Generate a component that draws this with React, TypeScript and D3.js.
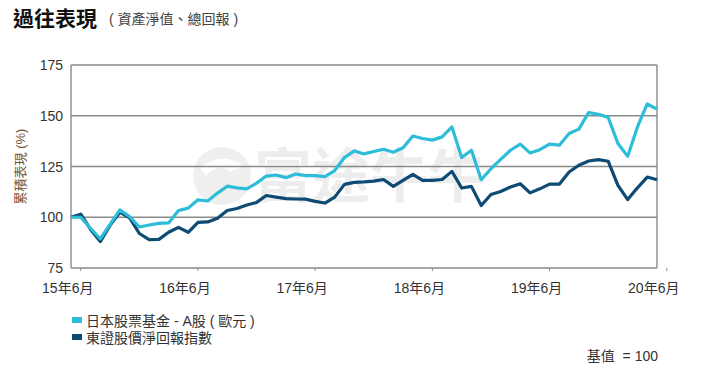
import React from 'react';
import * as d3 from 'd3';

// monthly points, May 2015 (index 0) to May 2020 (index 60)
const fundValues = [
  100, 100, 94.5, 89.4, 96.5, 103.6, 100.3, 95.2, 96.2, 97, 97.2, 103.3, 104.5, 108.6, 108,
  111.9, 115.3, 114.5, 114, 116.8, 120.3, 120.8, 119.5, 121.3, 120.5, 120.5, 120, 123, 129.4,
  132.7, 131.2, 132.4, 133.5, 132, 134.2, 140, 138.8, 138, 139.6, 144.5, 129.4, 133, 118.5,
  123.9, 128.5, 133, 136, 131.7, 133.3, 136, 135.5, 141.3, 143.4, 151.6, 150.7, 149.2, 136.3,
  130, 144.5, 155.8, 153.3,
];
const indexValues = [
  100, 101.5, 94, 88, 96, 102.5, 99.7, 92, 89, 89.1, 92.6, 95, 92.6, 97.5, 97.7, 99.5, 103.3,
  104.3, 106, 107.3, 110.7, 109.9, 109.2, 109, 108.9, 107.8, 107, 109.9, 116.2, 117.2, 117.4,
  117.8, 118.6, 115.2, 118.2, 121.1, 118.2, 118.2, 118.6, 122.6, 114.4, 115.2, 105.8, 111.2,
  112.7, 114.9, 116.5, 112, 114, 116.3, 116.3, 122.3, 125.6, 127.7, 128.4, 127.6, 115.7, 108.7,
  114.5, 119.8, 118.5,
];
const tickIndex = [1, 13, 25, 37, 49, 61];
const tickLabels = ['15年6月', '16年6月', '17年6月', '18年6月', '19年6月', '20年6月'];
const yTicks = [75, 100, 125, 150, 175];
const seriesNames = ['日本股票基金 - A股 ( 歐元 )', '東證股價淨回報指數'];

const FONT = '"Liberation Sans", Arial, "Noto Sans CJK TC", sans-serif';
const LIGHT = '#2dbdd9';
const DARK = '#0d4b74';

export default function App() {
  const width = 701;
  const height = 374;
  const left = 71, right = 657, top = 65, bottom = 268;

  const x = d3.scaleLinear().domain([0, 60]).range([left, right]);
  const y = d3.scaleLinear().domain([75, 175]).range([bottom, top]);
  const line = d3
    .line<number>()
    .x((_, i) => x(i))
    .y((d) => y(d));

  return (
    <svg
      width={width}
      height={height}
      style={{ position: 'absolute', left: 0, top: 0, background: '#fff' }}
      fontFamily={FONT}
    >
      <text x={13} y={26} fontSize={21} fontWeight="bold" fill="#111">過往表現</text>
      <text x={109} y={24} fontSize={14} fill="#444">( 資產淨值、總回報 )</text>

      {/* watermark */}
      <g opacity={0.45}>
        <circle cx={222} cy={176} r={29} fill="#dcdcdc" />
        <path d="M200,168 Q222,150 244,166 L230,172 Q220,162 206,176 Z" fill="#fff" />
        <text x={254} y={197} fontSize={58} fontWeight="bold" fill="#d8d8d8">富途牛牛</text>
      </g>

      {yTicks.map((t) => (
        <g key={t}>
          <line x1={left} x2={right} y1={y(t)} y2={y(t)} stroke="#8a8a8a" strokeWidth={1.4} />
          <text x={63} y={y(t) + 5} fontSize={14} textAnchor="end" fill="#333">{t}</text>
        </g>
      ))}
      <line x1={left} x2={left} y1={top} y2={bottom} stroke="#8a8a8a" strokeWidth={1.4} />
      <line x1={right} x2={right} y1={top} y2={bottom} stroke="#8a8a8a" strokeWidth={1.4} />

      {tickIndex.map((t, i) => (
        <g key={t}>
          <line x1={x(t)} x2={x(t)} y1={bottom} y2={bottom + 3} stroke="#8a8a8a" strokeWidth={1} />
          <text x={x(t) - 13} y={293} fontSize={14} textAnchor="middle" fill="#333">
            {tickLabels[i]}
          </text>
        </g>
      ))}

      <text
        transform={`translate(25,${(top + bottom) / 2}) rotate(-90)`}
        fontSize={13}
        textAnchor="middle"
        fill="#7a5232"
      >
        累積表現 (%)
      </text>

      <path d={line(indexValues) ?? ''} fill="none" stroke={DARK} strokeWidth={3.2} strokeLinejoin="round" />
      <path d={line(fundValues) ?? ''} fill="none" stroke={LIGHT} strokeWidth={3.2} strokeLinejoin="round" />

      {seriesNames.map((name, i) => (
        <g key={name} transform={`translate(72,${321 + i * 17})`}>
          <rect x={0} y={-4} width={10} height={6} fill={i === 0 ? LIGHT : DARK} />
          <text x={14} y={5} fontSize={14} fill="#333">{name}</text>
        </g>
      ))}
      <text x={658} y={361} fontSize={14} textAnchor="end" fill="#333" style={{ whiteSpace: 'pre' }}>
        基值  = 100
      </text>
    </svg>
  );
}
